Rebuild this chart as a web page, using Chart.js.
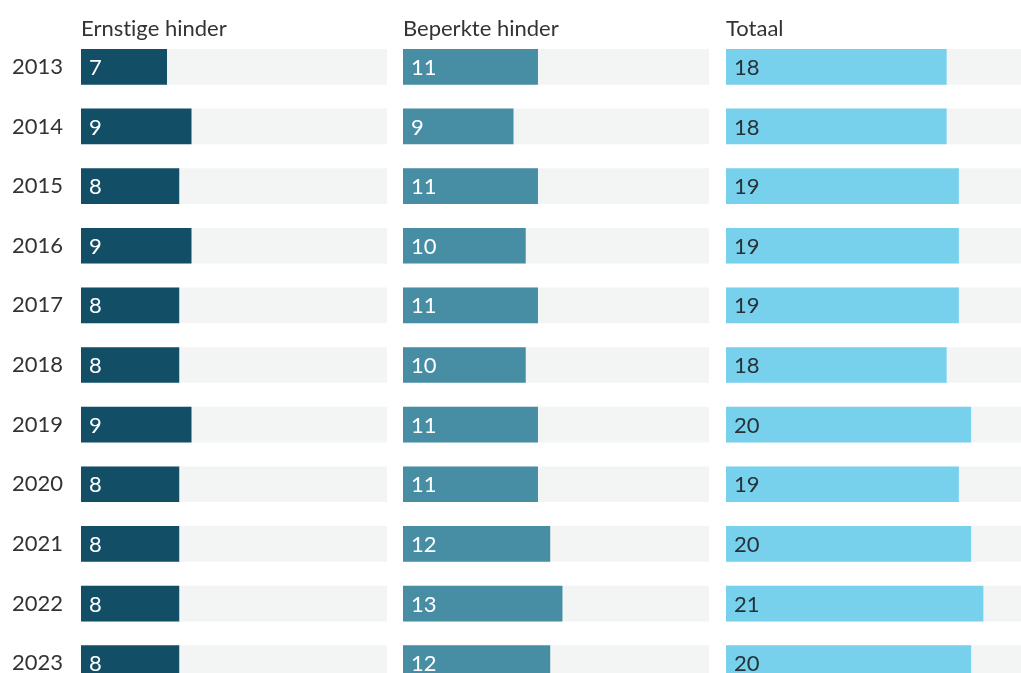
<!DOCTYPE html>
<html>
<head>
<meta charset="utf-8">
<script src="https://cdn.jsdelivr.net/npm/chart.js@4/dist/chart.umd.min.js"></script>
<style>
  html, body { margin: 0; padding: 0; background: #ffffff; overflow: hidden; }
  #wrap { position: relative; width: 1021px; height: 673px; overflow: hidden; }
  canvas { position: absolute; top: 0; display: block; }
</style>
</head>
<body>
<div id="wrap">
  <canvas id="c1" width="387" height="693" style="left:0px"></canvas>
  <canvas id="c2" width="306" height="693" style="left:403px"></canvas>
  <canvas id="c3" width="306" height="693" style="left:726px"></canvas>
</div>
<script>
const years = ['2013','2014','2015','2016','2017','2018','2019','2020','2021','2022','2023'];
const ernstigeHinder = [7, 9, 8, 9, 8, 8, 9, 8, 8, 8, 8];
const beperkteHinder = [11, 9, 11, 10, 11, 10, 11, 11, 12, 13, 12];
const totaal = [18, 18, 19, 19, 19, 18, 20, 19, 20, 21, 20];
const scaleMax = 25;
const titles = ['Ernstige hinder', 'Beperkte hinder', 'Totaal'];

const FONT = 'Lato, "Open Sans", sans-serif';
const FSIZE = 22;
const TEXT = '#333333';
const TRACK = '#f3f4f4';

function noLigatures(ctx) {
  try { ctx.textRendering = 'optimizeSpeed'; } catch (e) {}
}

const labelPlugin = {
  id: 'valueLabels',
  afterDatasetsDraw(chart, args, opts) {
    const ctx = chart.ctx;
    const meta = chart.getDatasetMeta(0);
    const data = chart.data.datasets[0].data;
    ctx.save();
    ctx.font = FSIZE + 'px ' + FONT;
    ctx.fillStyle = opts.color;
    ctx.textAlign = 'left';
    ctx.textBaseline = 'middle';
    meta.data.forEach((el, i) => {
      ctx.fillText(String(data[i]), el.base + 8, el.y + 1);
    });
    ctx.restore();
  }
};

const titlePlugin = {
  id: 'panelTitle',
  afterDraw(chart, args, opts) {
    const ctx = chart.ctx;
    ctx.save();
    noLigatures(ctx);
    ctx.font = FSIZE + 'px ' + FONT;
    ctx.fillStyle = TEXT;
    ctx.textAlign = 'left';
    ctx.textBaseline = 'alphabetic';
    ctx.fillText(opts.text, chart.chartArea.left, 36);
    ctx.restore();
  }
};

function makeChart(id, values, color, labelColor, title, showYears) {
  return new Chart(document.getElementById(id), {
    type: 'bar',
    data: {
      labels: years,
      datasets: [
        { data: values, backgroundColor: color, grouped: false,
          barThickness: 35, borderWidth: 0 },
        { data: years.map(() => scaleMax), backgroundColor: TRACK, grouped: false,
          barThickness: 35, borderWidth: 0 }
      ]
    },
    options: {
      indexAxis: 'y',
      responsive: false,
      animation: false,
      layout: { padding: { top: 37, bottom: 0, left: 0, right: 0 } },
      plugins: {
        legend: { display: false },
        tooltip: { enabled: false },
        title: { display: false },
        valueLabels: { color: labelColor },
        panelTitle: { text: title }
      },
      scales: {
        x: { display: false, min: 0, max: scaleMax },
        y: {
          display: showYears,
          grid: { display: false, drawTicks: false },
          border: { display: false },
          ticks: { color: TEXT, font: { family: FONT, size: FSIZE }, padding: 18, autoSkip: false },
          afterFit(scale) {
            if (showYears) scale.width = 81;
            scale.paddingTop = 0;
            scale.paddingBottom = 0;
          }
        }
      }
    },
    plugins: [labelPlugin, titlePlugin]
  });
}

function build() {
  makeChart('c1', ernstigeHinder, '#124f67', '#ffffff', titles[0], true);
  makeChart('c2', beperkteHinder, '#478ea5', '#ffffff', titles[1], false);
  makeChart('c3', totaal, '#78d1ec', '#263238', titles[2], false);
}

if (document.fonts && document.fonts.load) {
  document.fonts.load(FSIZE + 'px Lato').then(build, build);
} else {
  build();
}
</script>
</body>
</html>
